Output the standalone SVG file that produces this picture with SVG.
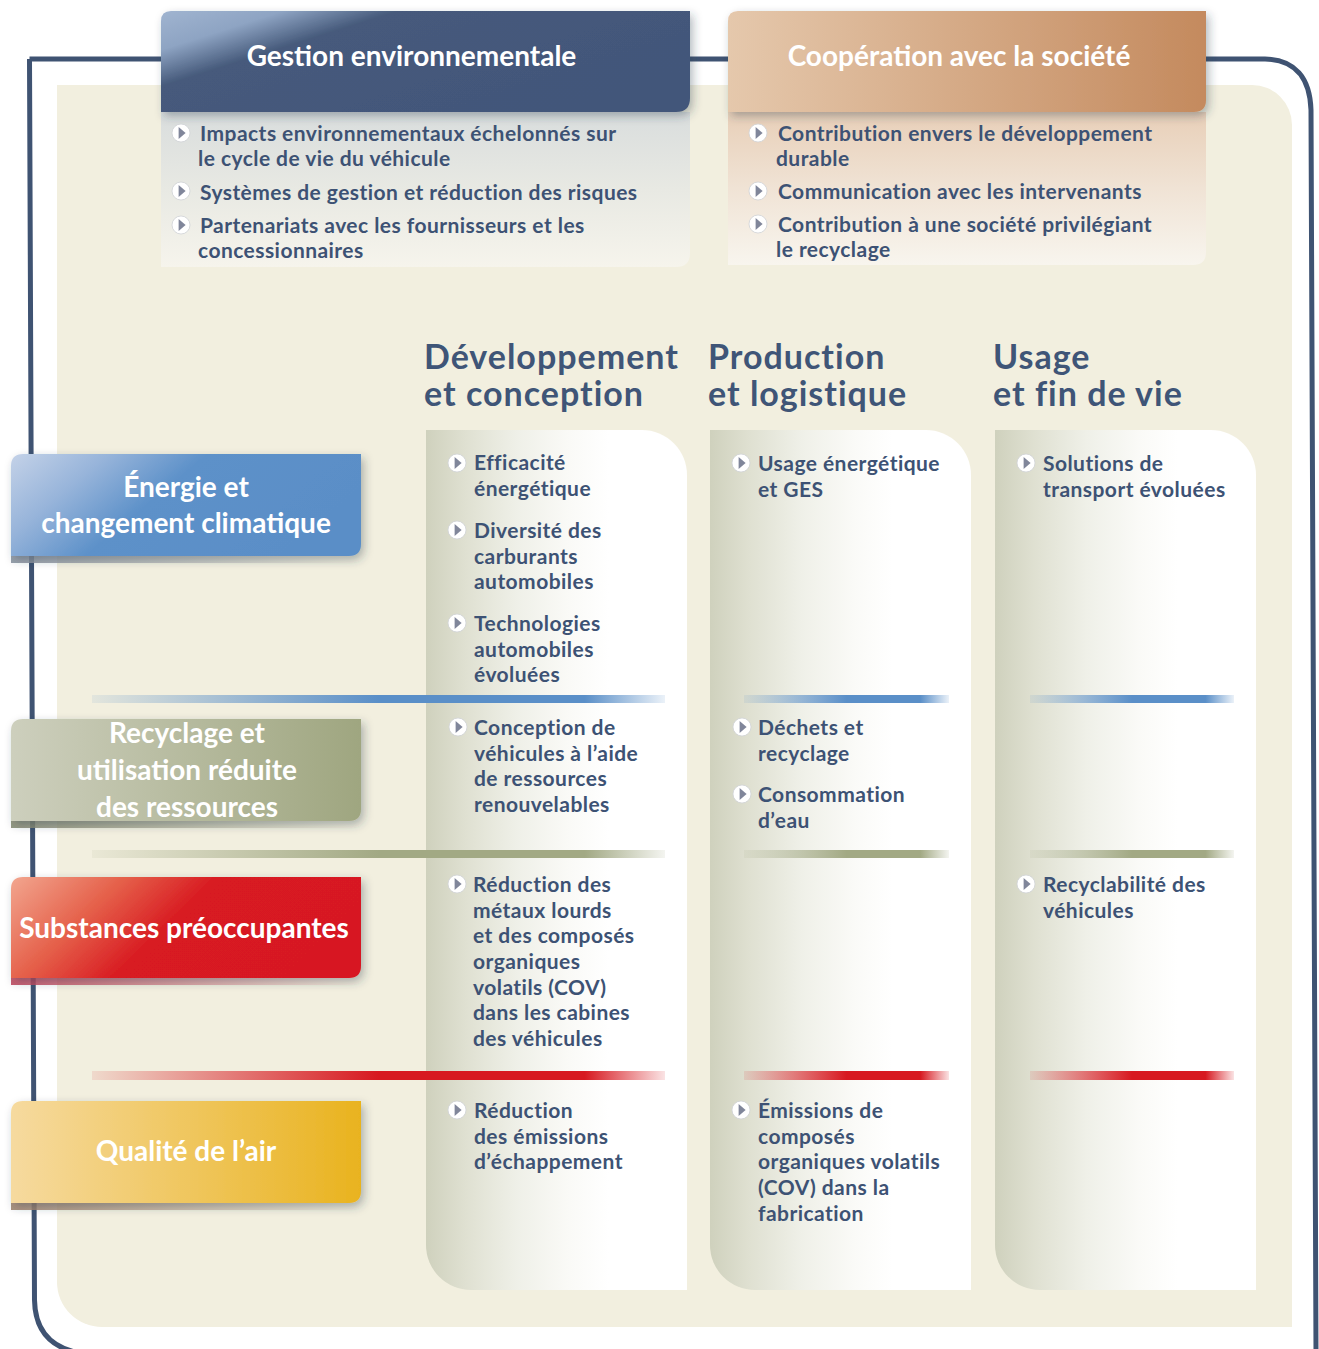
<svg xmlns="http://www.w3.org/2000/svg" xmlns:xlink="http://www.w3.org/1999/xlink" width="1319" height="1349" viewBox="0 0 1319 1349">
<defs>
<style>
.b{font-family:Lato,"Liberation Sans",sans-serif;font-weight:700;font-size:21px;letter-spacing:0.45px;fill:#3d5274}
.h{font-family:Lato,"Liberation Sans",sans-serif;font-weight:700;font-size:34px;letter-spacing:1px;fill:#3f5577}
.t{font-family:Lato,"Liberation Sans",sans-serif;font-weight:700;font-size:28px;fill:#ffffff}
.frame{fill:none;stroke:#3f5372;stroke-width:5}
</style>
<filter id="sh" x="-10%" y="-20%" width="125%" height="150%">
<feDropShadow dx="3" dy="4" stdDeviation="5" flood-color="#2d3a4a" flood-opacity="0.35"/>
</filter>
<symbol id="bul" viewBox="-10 -10 20 20" width="20" height="20" overflow="visible">
<circle r="9" fill="#ffffff" stroke="#cfd2d6" stroke-width="0.8"/>
<path d="M-2.4 -6 L4.6 0 L-2.4 6 Z" fill="#80869a"/>
</symbol>
<linearGradient id="gH1" x1="0" y1="0" x2="1" y2="0.6">
<stop offset="0" stop-color="#a0b4d0"/><stop offset="0.17" stop-color="#8ea4c3"/><stop offset="0.33" stop-color="#465a7b"/><stop offset="1" stop-color="#42567a"/>
</linearGradient>
<linearGradient id="gH2" x1="0" y1="0" x2="1" y2="0">
<stop offset="0" stop-color="#e5c8ac"/><stop offset="1" stop-color="#c48a5e"/>
</linearGradient>
<linearGradient id="gP1" x1="0" y1="0" x2="0" y2="1">
<stop offset="0" stop-color="#d9dddd"/><stop offset="0.5" stop-color="#e8e9e3"/><stop offset="1" stop-color="#f6f4ec"/>
</linearGradient>
<linearGradient id="gP2" x1="0" y1="0" x2="0" y2="1">
<stop offset="0" stop-color="#e8cfb8"/><stop offset="0.5" stop-color="#f0e3d5"/><stop offset="1" stop-color="#f8f5ee"/>
</linearGradient>
<linearGradient id="gCol" x1="0" y1="0" x2="1" y2="0">
<stop offset="0" stop-color="#cfd1bd"/><stop offset="0.15" stop-color="#dfe0d1"/><stop offset="0.35" stop-color="#eff0e8"/><stop offset="0.55" stop-color="#fafaf7"/><stop offset="0.7" stop-color="#ffffff"/>
</linearGradient>
<linearGradient id="gE" x1="0" y1="0" x2="1" y2="0.35">
<stop offset="0" stop-color="#c4d2e8"/><stop offset="0.25" stop-color="#97b4da"/><stop offset="0.5" stop-color="#5d91c9"/><stop offset="1" stop-color="#5a8ec7"/>
</linearGradient>
<linearGradient id="gR" x1="0" y1="0" x2="1" y2="0">
<stop offset="0" stop-color="#cdcfbd"/><stop offset="1" stop-color="#9fa680"/>
</linearGradient>
<linearGradient id="gS" x1="0" y1="0" x2="1" y2="0.3">
<stop offset="0" stop-color="#f2a68f"/><stop offset="0.3" stop-color="#e5604a"/><stop offset="0.55" stop-color="#d81a21"/><stop offset="1" stop-color="#d71920"/>
</linearGradient>
<linearGradient id="gQ" x1="0" y1="0" x2="1" y2="0">
<stop offset="0" stop-color="#f6da9f"/><stop offset="1" stop-color="#e9b31f"/>
</linearGradient>
<linearGradient id="sE" x1="0" y1="0" x2="1" y2="0"><stop offset="0" stop-color="#8e96a2" stop-opacity="0.9"/><stop offset="1" stop-color="#8e96a2" stop-opacity="0"/></linearGradient>
<linearGradient id="sR" x1="0" y1="0" x2="1" y2="0"><stop offset="0" stop-color="#8a8e76" stop-opacity="0.9"/><stop offset="1" stop-color="#8a8e76" stop-opacity="0"/></linearGradient>
<linearGradient id="sS" x1="0" y1="0" x2="1" y2="0"><stop offset="0" stop-color="#c44a60" stop-opacity="0.9"/><stop offset="1" stop-color="#c44a60" stop-opacity="0"/></linearGradient>
<linearGradient id="sQ" x1="0" y1="0" x2="1" y2="0"><stop offset="0" stop-color="#a48772" stop-opacity="0.9"/><stop offset="1" stop-color="#a48772" stop-opacity="0"/></linearGradient>
<linearGradient id="bB" x1="0" y1="0" x2="1" y2="0"><stop offset="0" stop-color="#5a8fc8" stop-opacity="0.1"/><stop offset="0.5" stop-color="#5a8fc8"/><stop offset="0.86" stop-color="#5a8fc8"/><stop offset="1" stop-color="#5a8fc8" stop-opacity="0.12"/></linearGradient>
<linearGradient id="bG" x1="0" y1="0" x2="1" y2="0"><stop offset="0" stop-color="#a2a984" stop-opacity="0.1"/><stop offset="0.5" stop-color="#a2a984"/><stop offset="0.86" stop-color="#a2a984"/><stop offset="1" stop-color="#a2a984" stop-opacity="0.12"/></linearGradient>
<linearGradient id="bR" x1="0" y1="0" x2="1" y2="0"><stop offset="0" stop-color="#d71920" stop-opacity="0.1"/><stop offset="0.5" stop-color="#d71920"/><stop offset="0.86" stop-color="#d71920"/><stop offset="1" stop-color="#d71920" stop-opacity="0.12"/></linearGradient>
</defs>

<rect width="1319" height="1349" fill="#ffffff"/>

<g id="frame">
<path class="frame" d="M29.5 59 H1265 C1295 59.5 1310 78 1311 110 L1316 1352"/>
<path class="frame" d="M29.5 59 L34.5 1300 C35 1330 50 1346 75 1352"/>
<path d="M57 85 H1252 A40 40 0 0 1 1292 125 V1327 H102 A45 45 0 0 1 57 1282 Z" fill="#f2efdf"/>
</g>

<g id="gestion">
<path d="M161 112 H690 V253 Q690 267 676 267 H161 Z" fill="url(#gP1)"/>
<path d="M161 21 Q161 11 171 11 H690 V98 Q690 112 676 112 H161 Z" fill="url(#gH1)" filter="url(#sh)"/>
<text class="t" x="411.5" y="66" text-anchor="middle">Gestion environnementale</text>
<use href="#bul" x="171" y="123"/>
<text class="b" x="200" y="141">Impacts environnementaux échelonnés sur</text>
<text class="b" x="198" y="166">le cycle de vie du véhicule</text>
<use href="#bul" x="171" y="181"/>
<text class="b" x="200" y="200">Systèmes de gestion et réduction des risques</text>
<use href="#bul" x="171" y="215"/>
<text class="b" x="200" y="233">Partenariats avec les fournisseurs et les</text>
<text class="b" x="198" y="258">concessionnaires</text>
</g>

<g id="cooperation">
<path d="M728 112 H1206 V252 Q1206 265 1193 265 H728 Z" fill="url(#gP2)"/>
<path d="M728 21 Q728 11 738 11 H1206 V100 Q1206 112 1194 112 H728 Z" fill="url(#gH2)" filter="url(#sh)"/>
<text class="t" x="959" y="66" text-anchor="middle">Coopération avec la société</text>
<use href="#bul" x="748" y="123"/>
<text class="b" x="778" y="141">Contribution envers le développement</text>
<text class="b" x="776" y="166">durable</text>
<use href="#bul" x="748" y="181"/>
<text class="b" x="778" y="199">Communication avec les intervenants</text>
<use href="#bul" x="748" y="214"/>
<text class="b" x="778" y="232">Contribution à une société privilégiant</text>
<text class="b" x="776" y="257">le recyclage</text>
</g>

<g id="col-dev">
<text class="h"><tspan x="424" y="369">Développement</tspan><tspan x="424" y="406">et conception</tspan></text>
<path d="M426 430 H642 A45 45 0 0 1 687 475 V1290 H471 A45 45 0 0 1 426 1245 Z" fill="url(#gCol)"/>
</g>
<g id="col-prod">
<text class="h"><tspan x="708" y="369">Production</tspan><tspan x="708" y="406">et logistique</tspan></text>
<path d="M710 430 H926 A45 45 0 0 1 971 475 V1290 H755 A45 45 0 0 1 710 1245 Z" fill="url(#gCol)"/>
</g>
<g id="col-usage">
<text class="h"><tspan x="993" y="369">Usage</tspan><tspan x="993" y="406">et fin de vie</tspan></text>
<path d="M995 430 H1211 A45 45 0 0 1 1256 475 V1290 H1040 A45 45 0 0 1 995 1245 Z" fill="url(#gCol)"/>
</g>

<g id="separators">
<rect x="92" y="695" width="573" height="8" fill="url(#bB)"/>
<rect x="744" y="695" width="205" height="8" fill="url(#bB)"/>
<rect x="1030" y="695" width="204" height="8" fill="url(#bB)"/>
<rect x="92" y="850" width="573" height="8" fill="url(#bG)"/>
<rect x="744" y="850" width="205" height="8" fill="url(#bG)"/>
<rect x="1030" y="850" width="204" height="8" fill="url(#bG)"/>
<rect x="92" y="1071" width="573" height="9" fill="url(#bR)"/>
<rect x="744" y="1071" width="205" height="9" fill="url(#bR)"/>
<rect x="1030" y="1071" width="204" height="9" fill="url(#bR)"/>
</g>

<g id="row-energie">
<rect x="11" y="556" width="350" height="7" fill="url(#sE)"/>
<path d="M11 466 Q11 454 23 454 H361 V544 Q361 556 349 556 H11 Z" fill="url(#gE)" filter="url(#sh)"/>
<text class="t" x="186" y="497" text-anchor="middle">Énergie et</text>
<text class="t" x="186" y="533" text-anchor="middle">changement climatique</text>
</g>
<g id="row-recyclage">
<rect x="11" y="821" width="350" height="7" fill="url(#sR)"/>
<path d="M11 731 Q11 719 23 719 H361 V809 Q361 821 349 821 H11 Z" fill="url(#gR)" filter="url(#sh)"/>
<text class="t" x="187" y="743" text-anchor="middle">Recyclage et</text>
<text class="t" x="187" y="780" text-anchor="middle">utilisation réduite</text>
<text class="t" x="187" y="817" text-anchor="middle">des ressources</text>
</g>
<g id="row-substances">
<rect x="11" y="978" width="350" height="7" fill="url(#sS)"/>
<path d="M11 889 Q11 877 23 877 H361 V966 Q361 978 349 978 H11 Z" fill="url(#gS)" filter="url(#sh)"/>
<text class="t" x="184" y="938" text-anchor="middle">Substances préoccupantes</text>
</g>
<g id="row-air">
<rect x="11" y="1203" width="350" height="7" fill="url(#sQ)"/>
<path d="M11 1113 Q11 1101 23 1101 H361 V1191 Q361 1203 349 1203 H11 Z" fill="url(#gQ)" filter="url(#sh)"/>
<text class="t" x="186" y="1161" text-anchor="middle">Qualité de l’air</text>
</g>

<g id="items-dev">
<use href="#bul" x="447" y="453"/>
<text class="b" x="474" y="470">Efficacité</text>
<text class="b" x="474" y="496">énergétique</text>
<use href="#bul" x="447" y="520"/>
<text class="b" x="474" y="538">Diversité des</text>
<text class="b" x="474" y="564">carburants</text>
<text class="b" x="474" y="589">automobiles</text>
<use href="#bul" x="447" y="613"/>
<text class="b" x="474" y="631">Technologies</text>
<text class="b" x="474" y="657">automobiles</text>
<text class="b" x="474" y="682">évoluées</text>
<use href="#bul" x="448" y="717"/>
<text class="b" x="474" y="735">Conception de</text>
<text class="b" x="474" y="761">véhicules à l’aide</text>
<text class="b" x="474" y="786">de ressources</text>
<text class="b" x="474" y="812">renouvelables</text>
<use href="#bul" x="447" y="874"/>
<text class="b" x="473" y="892">Réduction des</text>
<text class="b" x="473" y="918">métaux lourds</text>
<text class="b" x="473" y="943">et des composés</text>
<text class="b" x="473" y="969">organiques</text>
<text class="b" x="473" y="995">volatils (COV)</text>
<text class="b" x="473" y="1020">dans les cabines</text>
<text class="b" x="473" y="1046">des véhicules</text>
<use href="#bul" x="447" y="1100"/>
<text class="b" x="474" y="1118">Réduction</text>
<text class="b" x="474" y="1144">des émissions</text>
<text class="b" x="474" y="1169">d’échappement</text>
</g>

<g id="items-prod">
<use href="#bul" x="731" y="453"/>
<text class="b" x="758" y="471">Usage énergétique</text>
<text class="b" x="758" y="497">et GES</text>
<use href="#bul" x="732" y="717"/>
<text class="b" x="758" y="735">Déchets et</text>
<text class="b" x="758" y="761">recyclage</text>
<use href="#bul" x="732" y="784"/>
<text class="b" x="758" y="802">Consommation</text>
<text class="b" x="758" y="828">d’eau</text>
<use href="#bul" x="731" y="1100"/>
<text class="b" x="758" y="1118">Émissions de</text>
<text class="b" x="758" y="1144">composés</text>
<text class="b" x="758" y="1169">organiques volatils</text>
<text class="b" x="758" y="1195">(COV) dans la</text>
<text class="b" x="758" y="1221">fabrication</text>
</g>

<g id="items-usage">
<use href="#bul" x="1016" y="453"/>
<text class="b" x="1043" y="471">Solutions de</text>
<text class="b" x="1043" y="497">transport évoluées</text>
<use href="#bul" x="1016" y="874"/>
<text class="b" x="1043" y="892">Recyclabilité des</text>
<text class="b" x="1043" y="918">véhicules</text>
</g>
</svg>
